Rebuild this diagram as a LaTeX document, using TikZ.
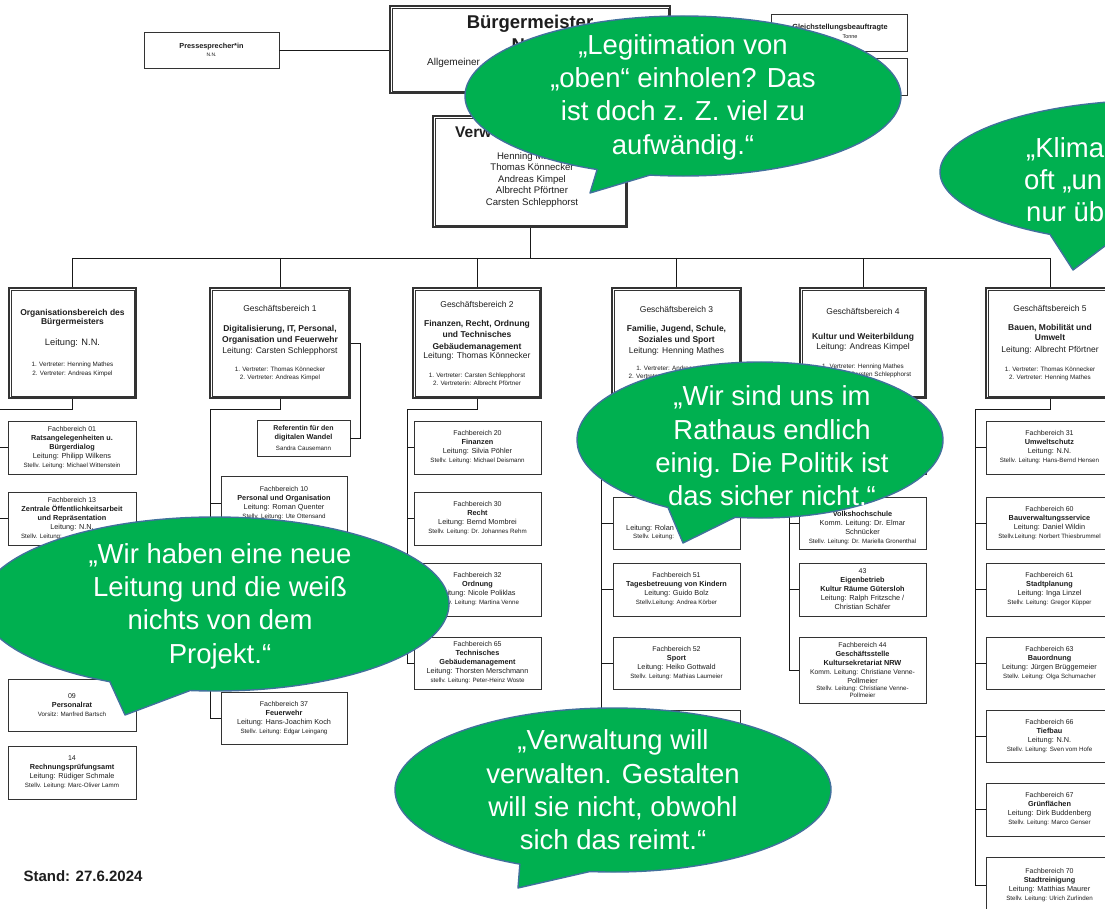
\documentclass[tikz,border=0pt]{standalone}
\usepackage{fontspec}
\setmainfont{Liberation Sans}
\definecolor{bubgreen}{HTML}{00B050}
\definecolor{bubline}{HTML}{41719C}
\definecolor{boxline}{HTML}{333333}
\definecolor{txt}{HTML}{1E1E1E}
\newcommand\fsz[2]{\fontsize{#1}{#2}\selectfont}
\newcommand\BX[7]{\node[#1, minimum width={#5-#3}, minimum height={#6-#4}] (#2) at ({(#3+#5)/2},{(#4+#6)/2}) {#7};}
\newcommand\sv[1]{{\fsz{6.2}{9}#1}}
\newcommand\vt[1]{{\fsz{6.3}{8}#1}}
\newcommand\fbn[1]{{\fsz{7}{9}#1}}
\newcommand\bubbleshape[7]{\path[bubble] (#1,#2) ++(#5:#3pt and #4pt) arc[start angle=#5, end angle=#6, x radius=#3pt, y radius=#4pt] -- #7 -- cycle;}
\tikzset{
  plainbox/.style={draw=boxline, line width=0.9pt, fill=white, inner sep=0pt, align=center, text=txt, font=\fsz{7.3}{9}},
  dblbox/.style={draw=boxline, line width=1.2pt, fill=white, inner sep=0pt, align=center, text=txt, font=\fsz{8.5}{11}},
  innerframe/.style={draw=boxline, line width=0.7pt},
  txtnode/.style={inner sep=0pt, text=txt, align=center},
  conn/.style={draw=black!90, line width=0.9pt},
  bubble/.style={fill=bubgreen, draw=bubline, line width=1.4pt, line join=round},
  btext/.style={text=white, align=center, inner sep=0pt, font=\fsz{27.5}{33.3}},
}
\begin{document}
\begin{tikzpicture}[x=1pt,y=-1pt]
\useasboundingbox (0,0) rectangle (1105,909);
\clip (0,0) rectangle (1105,909);
\fill[white] (0,0) rectangle (1105,909);

% ---------- top level ----------
\BX{plainbox}{presse}{144}{32}{279}{68}{\textbf{Pressesprecher*in}\\[-1pt]{\fsz{5}{7}N.N.}}
\BX{dblbox}{bm}{390}{6}{670}{93}{}
\node[txtnode, font=\bfseries\fsz{18.5}{21}] (bmT) at (530,24) {Bürgermeister};
\node[txtnode, font=\bfseries\fsz{18.5}{21}] (bmN) at (530,45) {N.N.};
\node[txtnode, anchor=west, font=\fsz{10}{12}] (bmA) at (427,63) {Allgemeiner};
\BX{plainbox}{gst}{771}{14}{907}{51}{}
\node[txtnode, font=\bfseries\fsz{7.4}{9}] (gstT) at (840,28) {Gleichstellungsbeauftragte};
\node[txtnode, font=\fsz{5.5}{7}] (gstN) at (850,37) {Tonne};
\BX{plainbox}{gstB}{771}{58}{907}{95}{}
\BX{dblbox}{vv}{433}{116}{627}{227}{}
\node[txtnode, anchor=west, font=\bfseries\fsz{15.5}{18}] (vvT) at (455,132) {Verw};
\node[txtnode, font=\fsz{9.6}{11.5}] (vvN) at (532,180) {Henning Mathes\\Thomas Könnecker\\Andreas Kimpel\\Albrecht Pförtner\\Carsten Schlepphorst};

% ---------- Geschaeftsbereiche ----------
\BX{dblbox}{org}{9}{288}{136}{398}{\textbf{Organisationsbereich des}\\[-2pt]\textbf{Bürgermeisters}\\[10pt]{\fsz{9.3}{11}Leitung: N.N.}\\[10pt]\vt{1. Vertreter: Henning Mathes}\\[-2pt]\vt{2. Vertreter: Andreas Kimpel}}
\BX{dblbox}{gb1}{210}{288}{350}{398}{Geschäftsbereich 1\\[9pt]\textbf{Digitalisierung, IT, Personal,}\\\textbf{Organisation und Feuerwehr}\\Leitung: Carsten Schlepphorst\\[7pt]\vt{1. Vertreter: Thomas Könnecker}\\[-3pt]\vt{2. Vertreter: Andreas Kimpel}}
\BX{dblbox}{gb2}{413}{288}{541}{398}{Geschäftsbereich 2\\[8pt]\textbf{Finanzen, Recht, Ordnung}\\\textbf{und Technisches}\\[1pt]\textbf{Gebäudemanagement}\\[-2pt]Leitung: Thomas Könnecker\\[8pt]\vt{1. Vertreter: Carsten Schlepphorst}\\[-3pt]\vt{2. Vertreterin: Albrecht Pförtner}}
\BX{dblbox}{gb3}{612}{288}{741}{398}{Geschäftsbereich 3\\[8pt]\textbf{Familie, Jugend, Schule,}\\\textbf{Soziales und Sport}\\Leitung: Henning Mathes\\[6pt]\vt{1. Vertreter: Andreas Kimpel}\\[-3pt]\vt{2. Vertreter:\phantom{ Carsten Schlepphorst}}}
\BX{dblbox}{gb4}{800}{288}{926}{398}{Geschäftsbereich 4\\[14pt]\textbf{Kultur und Weiterbildung}\\[-1pt]Leitung: Andreas Kimpel\\[8pt]\vt{1. Vertreter: Henning Mathes}\\[-3pt]\vt{2. Vertreter: Carsten Schlepphorst}}
\BX{dblbox}{gb5}{986}{288}{1114}{398}{Geschäftsbereich 5\\[8pt]\textbf{Bauen, Mobilität und}\\[-1pt]\textbf{Umwelt}\\[1pt]Leitung: Albrecht Pförtner\\[8pt]\vt{1. Vertreter: Thomas Könnecker}\\[-3pt]\vt{2. Vertreter: Henning Mathes}}
\foreach \n in {bm,vv,org,gb1,gb2,gb3,gb4,gb5}
  \draw[innerframe] ([shift={(2.6,-2.6)}]\n.south west) rectangle ([shift={(-2.6,2.6)}]\n.north east);

% ---------- Organisationsbereich column ----------
\BX{plainbox}{o01}{8}{421}{136}{474}{\fbn{Fachbereich 01}\\\textbf{Ratsangelegenheiten u.}\\\textbf{Bürgerdialog}\\Leitung: Philipp Wilkens\\\sv{Stellv. Leitung: Michael Wittenstein}}
\BX{plainbox}{o13}{8}{492}{136}{545}{\fbn{Fachbereich 13}\\\textbf{Zentrale Öffentlichkeitsarbeit}\\\textbf{und Repräsentation}\\Leitung: N.N.\\\sv{Stellv. Leitung:\phantom{ Andreas Mustermann}}}
\BX{plainbox}{o3}{8}{563}{136}{616}{}
\BX{plainbox}{o09}{8}{679}{136}{731}{\fbn{09}\\\textbf{Personalrat}\\\sv{Vorsitz: Manfred Bartsch}}
\BX{plainbox}{o14}{8}{746}{136}{799}{\fbn{14}\\\textbf{Rechnungsprüfungsamt}\\Leitung: Rüdiger Schmale\\\sv{Stellv. Leitung: Marc-Oliver Lamm}}

% ---------- GB1 column ----------
\BX{plainbox}{ref}{257}{420}{350}{456}{\fsz{7}{8}\textbf{Referentin für den}\\\textbf{digitalen Wandel}\\[2pt]\sv{Sandra Causemann}}
\BX{plainbox}{fb10}{221}{476}{347}{548}{}
\node[txtnode, font=\fsz{7.3}{9}] (fb10t) at (284,503) {\fbn{Fachbereich 10}\\\textbf{Personal und Organisation}\\Leitung: Roman Quenter\\\sv{Stellv. Leitung: Ute Ottensand}};
\BX{plainbox}{fb37}{221}{692}{347}{744}{\fbn{Fachbereich 37}\\\textbf{Feuerwehr}\\Leitung: Hans-Joachim Koch\\\sv{Stellv. Leitung: Edgar Leingang}}

% ---------- GB2 column ----------
\BX{plainbox}{fb20}{414}{421}{541}{474}{\fbn{Fachbereich 20}\\\textbf{Finanzen}\\Leitung: Silvia Pöhler\\\sv{Stellv. Leitung: Michael Deismann}}
\BX{plainbox}{fb30}{414}{492}{541}{545}{\fbn{Fachbereich 30}\\\textbf{Recht}\\Leitung: Bernd Mombrei\\\sv{Stellv. Leitung: Dr. Johannes Rehm}}
\BX{plainbox}{fb32}{414}{563}{541}{616}{\fbn{Fachbereich 32}\\\textbf{Ordnung}\\Leitung: Nicole Poliklas\\\sv{Stellv. Leitung: Martina Venne}}
\BX{plainbox}{fb65}{414}{637}{541}{689}{\fbn{Fachbereich 65}\\\textbf{Technisches}\\\textbf{Gebäudemanagement}\\Leitung: Thorsten Merschmann\\\sv{stellv. Leitung: Peter-Heinz Woste}}

% ---------- GB3 column ----------
\BX{plainbox}{g3a}{613}{421}{740}{474}{}
\BX{plainbox}{g3b}{613}{497}{740}{549}{}
\node[txtnode, anchor=west, font=\fsz{7.3}{9}] (g3bL) at (626,529) {Leitung: Rolan};
\node[txtnode, anchor=west, font=\fsz{6.2}{9}] (g3bS) at (633,537) {Stellv. Leitung:};
\BX{plainbox}{fb51}{613}{563}{740}{616}{\fbn{Fachbereich 51}\\\textbf{Tagesbetreuung von Kindern}\\Leitung: Guido Bolz\\\sv{Stellv.Leitung: Andrea Körber}}
\BX{plainbox}{fb52}{613}{637}{740}{689}{\fbn{Fachbereich 52}\\\textbf{Sport}\\Leitung: Heiko Gottwald\\\sv{Stellv. Leitung: Mathias Laumeier}}
\BX{plainbox}{g3e}{613}{710}{740}{762}{}

% ---------- GB4 column ----------
\BX{plainbox}{g4a}{799}{421}{926}{474}{}
\BX{plainbox}{g4b}{799}{497}{926}{549}{}
\node[txtnode, font=\fsz{7.3}{9}] (g4bt) at (862.5,528) {\textbf{Volkshochschule}\\Komm. Leitung: Dr. Elmar\\Schnücker\\\sv{Stellv. Leitung: Dr. Mariella Gronenthal}};
\BX{plainbox}{k43}{799}{563}{926}{616}{\fbn{43}\\\textbf{Eigenbetrieb}\\\textbf{Kultur Räume Gütersloh}\\Leitung: Ralph Fritzsche /\\Christian Schäfer}
\BX{plainbox}{fb44}{799}{637}{926}{703}{\fbn{Fachbereich 44}\\\textbf{Geschäftsstelle}\\\textbf{Kultursekretariat NRW}\\{\fsz{6.8}{9}Komm. Leitung: Christiane Venne-}\\Pollmeier\\[-2pt]\sv{Stellv. Leitung: Christiane Venne-}\\[-2pt]\sv{Pollmeier}}

% ---------- GB5 column ----------
\BX{plainbox}{fb31}{986}{421}{1113}{474}{\fbn{Fachbereich 31}\\\textbf{Umweltschutz}\\Leitung: N.N.\\\sv{Stellv. Leitung: Hans-Bernd Hensen}}
\BX{plainbox}{fb60}{986}{497}{1113}{549}{\fbn{Fachbereich 60}\\\textbf{Bauverwaltungsservice}\\Leitung: Daniel Wildin\\\sv{Stellv.Leitung: Norbert Thiesbrummel}}
\BX{plainbox}{fb61}{986}{563}{1113}{616}{\fbn{Fachbereich 61}\\\textbf{Stadtplanung}\\Leitung: Inga Linzel\\\sv{Stellv. Leitung: Gregor Küpper}}
\BX{plainbox}{fb63}{986}{637}{1113}{689}{\fbn{Fachbereich 63}\\\textbf{Bauordnung}\\Leitung: Jürgen Brüggemeier\\\sv{Stellv. Leitung: Olga Schumacher}}
\BX{plainbox}{fb66}{986}{710}{1113}{762}{\fbn{Fachbereich 66}\\\textbf{Tiefbau}\\Leitung: N.N.\\\sv{Stellv. Leitung: Sven vom Hofe}}
\BX{plainbox}{fb67}{986}{783}{1113}{836}{\fbn{Fachbereich 67}\\\textbf{Grünflächen}\\Leitung: Dirk Buddenberg\\\sv{Stellv. Leitung: Marco Genser}}
\BX{plainbox}{fb70}{986}{857}{1113}{913}{\fbn{Fachbereich 70}\\\textbf{Stadtreinigung}\\Leitung: Matthias Maurer\\\sv{Stellv. Leitung: Ulrich Zurlinden}}

\node[txtnode, font=\bfseries\fsz{15}{18}] (stand) at (83,876) {Stand: 27.6.2024};

% ---------- connectors ----------
\draw[conn] (presse.east) -- (presse.east -| bm.west);
\coordinate (bus) at (530,258);
\draw[conn] (vv.south) -- (bus);
\draw[conn] (org.north |- bus) -- (gb5.north |- bus);
\foreach \g in {org,gb1,gb2,gb3,gb4,gb5} \draw[conn] (\g.north |- bus) -- (\g.north);

\coordinate (s0) at (-3,409);
\coordinate (s1) at (210,409);
\coordinate (s2) at (407,409);
\coordinate (s3) at (601,409);
\coordinate (s4) at (789,409);
\coordinate (s5) at (975,409);

\draw[conn] (org.south) |- (s0) -- (s0 |- o14.west);
\foreach \b in {o01,o13,o3} \draw[conn] (s0 |- \b.west) -- (\b.west);

\draw[conn] (gb1.east) -- ++(10,0) |- (ref.east);
\draw[conn] (gb1.south) |- (s1) -- (s1 |- fb37.west);
\draw[conn] (s1 |- fb10t) -- (fb10t -| fb10.west);
\draw[conn] (s1 |- fb37.west) -- (fb37.west);

\draw[conn] (gb2.south) |- (s2) -- (s2 |- fb65.west);
\foreach \b in {fb20,fb30,fb32,fb65} \draw[conn] (s2 |- \b.west) -- (\b.west);

\draw[conn] (gb3.south) |- (s3) -- (s3 |- g3e.west);
\foreach \b in {g3a,g3b,fb51,fb52,g3e} \draw[conn] (s3 |- \b.west) -- (\b.west);

\draw[conn] (gb4.south) |- (s4) -- (s4 |- fb44.west);
\foreach \b in {g4a,g4b,k43,fb44} \draw[conn] (s4 |- \b.west) -- (\b.west);

\draw[conn] (gb5.south) |- (s5) -- (s5 |- fb70.west);
\foreach \b in {fb31,fb60,fb61,fb63,fb66,fb67,fb70} \draw[conn] (s5 |- \b.west) -- (\b.west);

% ---------- speech bubbles ----------
\bubbleshape{683}{96}{218}{80}{-98.7}{246.8}{(590,193)}
\node[btext] (b1) at (683,97) {„Legitimation von\\„oben“ einholen? Das\\ist doch z. Z. viel zu\\aufwändig.“};

\bubbleshape{1160}{172}{220}{72}{-103.1}{240}{(1073,270)}
\node[btext, anchor=base west] (b2a) at (1026,158) {„Klima};
\node[btext, anchor=base west] (b2b) at (1024,190) {oft „un};
\node[btext, anchor=base west] (b2c) at (1026,222) {nur üb};

\bubbleshape{760}{440}{183}{78}{-97.8}{239.8}{(683,543)}
\node[btext] (b3) at (772,446) {„Wir sind uns im\\Rathaus endlich\\einig. Die Politik ist\\das sicher nicht.“};

\bubbleshape{215}{604}{234}{87}{-96.1}{243.3}{(125,715)}
\node[btext] (b4) at (220,606) {„Wir haben eine neue\\Leitung und die weiß\\nichts von dem\\Projekt.“};

\bubbleshape{613}{790}{218}{82}{-96.1}{244.7}{(518,888)}
\node[btext] (b5) at (613,790) {„Verwaltung will\\verwalten. Gestalten\\will sie nicht, obwohl\\sich das reimt.“};
\end{tikzpicture}
\end{document}
